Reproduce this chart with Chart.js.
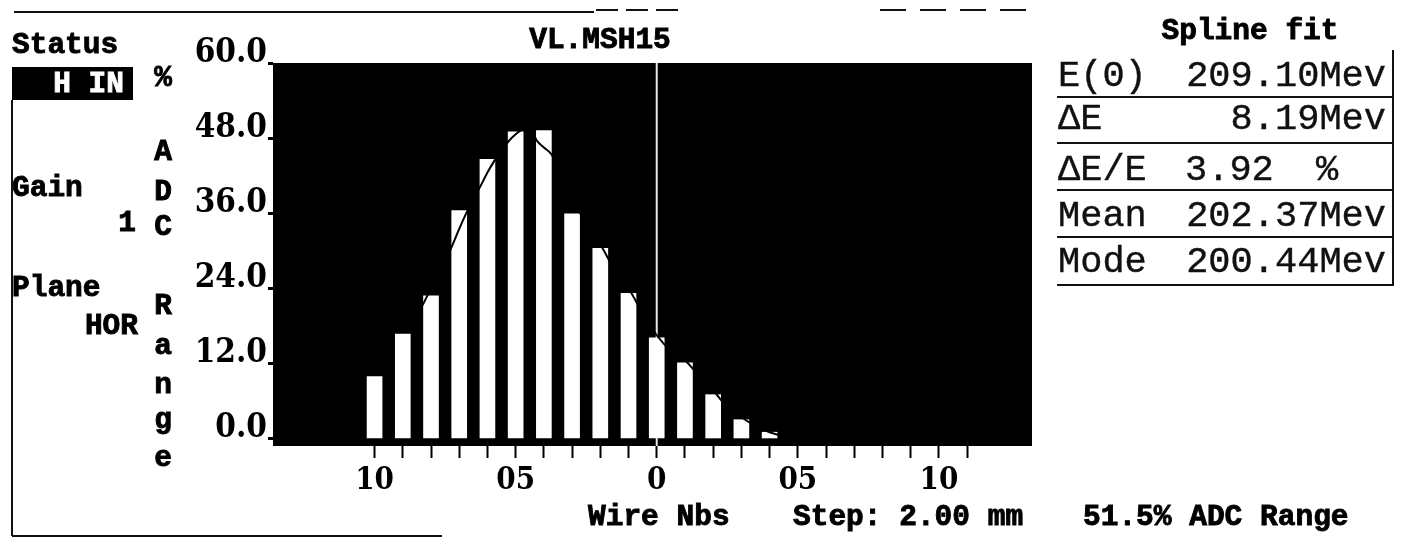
<!DOCTYPE html>
<html>
<head>
<meta charset="utf-8">
<script src="https://cdn.jsdelivr.net/npm/chart.js@4.4.1/dist/chart.umd.min.js"></script>
<style>
  body { margin: 0; background: #fff; }
  #wrap { position: relative; width: 1407px; height: 540px; overflow: hidden; background: #fff; }
  #chart { position: absolute; left: 0; top: 0; }
  .t { position: absolute; white-space: nowrap; color: #000;
       font-family: 'Liberation Mono', 'DejaVu Sans Mono', monospace; font-weight: bold; font-size: 29.5px;
       -webkit-text-stroke: 0.9px #000;
       height: 30px; line-height: 30px; }
  .m { position: absolute; white-space: nowrap; color: #111;
       font-family: 'Liberation Mono', 'DejaVu Sans Mono', monospace; font-size: 37px;
       -webkit-text-stroke: 0.4px #111;
       height: 40px; line-height: 40px; }
  .hl { position: absolute; height: 2px; background: #111; }
</style>
</head>
<body>
<div id="wrap">
  <canvas id="chart" width="1407" height="540"></canvas>

  <!-- cadre -->
  <div class="hl" style="left:14px; top:11px; width:580px;"></div>
  <div class="hl" style="left:596px; top:9px; width:90px; background:repeating-linear-gradient(90deg,#111 0 22px,transparent 22px 30px);"></div>
  <div class="hl" style="left:880px; top:9px; width:150px; background:repeating-linear-gradient(90deg,#111 0 26px,transparent 26px 40px);"></div>
  <div style="position:absolute; left:11px; top:100px; width:2px; height:436px; background:#111;"></div>
  <div class="hl" style="left:12px; top:535px; width:430px;"></div>

  <!-- panneau gauche -->
  <div class="t" style="left:12px; top:30px;">Status</div>
  <div style="position:absolute; left:12px; top:67px; width:121px; height:33px; background:#000;"></div>
  <div class="t" style="left:12px; top:69px; width:112px; text-align:right; color:#fff; -webkit-text-stroke-color:#fff;">H IN</div>
  <div class="t" style="left:12px; top:173px;">Gain</div>
  <div class="t" style="left:100px; top:208px; width:36px; text-align:right;">1</div>
  <div class="t" style="left:12px; top:273px;">Plane</div>
  <div class="t" style="left:60px; top:311px; width:78px; text-align:right;">HOR</div>

  <div class="t" style="left:150px; top:63px; width:26px; text-align:center;">%</div>
  <div class="t" style="left:150px; top:137px; width:26px; text-align:center;">A</div>
  <div class="t" style="left:150px; top:177px; width:26px; text-align:center;">D</div>
  <div class="t" style="left:150px; top:212px; width:26px; text-align:center;">C</div>
  <div class="t" style="left:150px; top:291px; width:26px; text-align:center;">R</div>
  <div class="t" style="left:150px; top:331px; width:26px; text-align:center;">a</div>
  <div class="t" style="left:150px; top:370px; width:26px; text-align:center;">n</div>
  <div class="t" style="left:150px; top:405px; width:26px; text-align:center;">g</div>
  <div class="t" style="left:150px; top:443px; width:26px; text-align:center;">e</div>

  <!-- titre -->
  <div class="t" style="left:500px; top:25px; width:200px; text-align:center;">VL.MSH15</div>

  <!-- tableau -->
  <div class="t" style="left:1150px; top:16px; width:200px; text-align:center;">Spline fit</div>
  <div class="m" style="left:1058px; top:56px;">E(0)</div>
  <div class="m" style="left:1150px; top:56px; width:236px; text-align:right;">209.10Mev</div>
  <div class="hl" style="left:1057px; top:96px; width:337px;"></div>
  <div class="m" style="left:1058px; top:99px;">ΔE</div>
  <div class="m" style="left:1150px; top:99px; width:236px; text-align:right;">8.19Mev</div>
  <div class="hl" style="left:1057px; top:142px; width:337px;"></div>
  <div class="m" style="left:1058px; top:150px;">ΔE/E</div>
  <div class="m" style="left:1185px; top:150px;">3.92</div>
  <div class="m" style="left:1316px; top:150px;">%</div>
  <div class="hl" style="left:1057px; top:189px; width:337px;"></div>
  <div class="m" style="left:1058px; top:196px;">Mean</div>
  <div class="m" style="left:1150px; top:196px; width:236px; text-align:right;">202.37Mev</div>
  <div class="hl" style="left:1057px; top:236px; width:337px;"></div>
  <div class="m" style="left:1058px; top:242px;">Mode</div>
  <div class="m" style="left:1150px; top:242px; width:236px; text-align:right;">200.44Mev</div>
  <div class="hl" style="left:1057px; top:284px; width:337px;"></div>
  <div style="position:absolute; left:1392px; top:50px; width:2px; height:236px; background:#111;"></div>

  <!-- bas -->
  <div class="t" style="left:588px; top:502px;">Wire Nbs</div>
  <div class="t" style="left:793px; top:502px;">Step: 2.00 mm</div>
  <div class="t" style="left:1083px; top:502px;">51.5% ADC Range</div>
</div>

<script>
// fils (position) et amplitude ADC en %
const wires = [-10, -9, -8, -7, -6, -5, -4, -3, -2, -1, 0, 1, 2, 3, 4];
const adcValues = [9.9, 16.7, 22.8, 36.4, 44.6, 49.0, 49.2, 35.9, 30.4, 23.2, 16.1, 12.1, 7.0, 3.0, 1.0];

// courbe spline
const fitX = [-8.3, -8, -7.75, -7.5, -7.25, -7, -6.75, -6.5, -6.25, -6, -5.75, -5.5, -5.25, -5, -4.75, -4.5,
              -4.25, -4, -3.75, -3.5, -3, -2.5, -2, -1.5, -1, -0.5, 0, 0.5, 1, 1.5, 2, 2.5, 3, 3.5, 4, 4.3];
const fitY = [21.3, 24, 26.3, 28.5, 30.8, 33.5, 36.0, 38.3, 40.3, 42.5, 44.4, 46.0, 47.5, 48.6, 49.4, 49.6,
              47.6, 46.5, 45.5, 43.4, 39, 34, 31, 27, 24, 20, 16.5, 14, 12.5, 10, 7.7, 5, 3.4, 2, 1, 0.6];

// graduations
const xTickValues = [-10, -9, -8, -7, -6, -5, -4, -3, -2, -1, 0, 1, 2, 3, 4, 5, 6, 7, 8, 9, 10, 11];
const xLabelValues = [-10, -5, 0, 5, 10];
const xLabelTexts = ['10', '05', '0', '05', '10'];
const yTickValues = [0, 12, 24, 36, 48, 60];

const boldFont = "'DejaVu Serif Condensed', 'DejaVu Serif', serif";

// fond noir de la zone + trait blanc au fil 0
const plotBackground = {
    id: 'plotBackground',
    beforeDatasetsDraw(chart) {
        const { ctx, chartArea } = chart;
        ctx.save();
        ctx.fillStyle = '#000';
        ctx.fillRect(chartArea.left, chartArea.top, chartArea.right - chartArea.left, chartArea.bottom - chartArea.top);
        const x0 = chart.scales.x.getPixelForValue(0);
        ctx.strokeStyle = '#e8e8e8';
        ctx.lineWidth = 2;
        ctx.beginPath();
        ctx.moveTo(x0, chartArea.top);
        ctx.lineTo(x0, chartArea.bottom);
        ctx.stroke();
        ctx.restore();
    }
};

new Chart(document.getElementById('chart'), {
    data: {
        datasets: [
            {
                type: 'line',
                data: fitX.map((x, i) => ({ x: x, y: fitY[i] })),
                borderColor: '#000',
                borderWidth: 2,
                pointRadius: 0,
                cubicInterpolationMode: 'monotone',
                order: 1
            },
            {
                type: 'bar',
                data: wires.map((w, i) => ({ x: w, y: adcValues[i] })),
                backgroundColor: '#fff',
                borderWidth: 0,
                barThickness: 15,
                order: 2
            }
        ]
    },
    plugins: [plotBackground],
    options: {
        responsive: false,
        animation: false,
        layout: { padding: { left: 193, right: 375, top: 63, bottom: 0 } },
        plugins: { legend: { display: false }, tooltip: { enabled: false } },
        scales: {
            x: {
                type: 'linear',
                offset: false,
                min: -13.6,
                max: 13.3,
                afterFit: scale => { scale.height = 94; },
                afterBuildTicks: scale => { scale.ticks = xTickValues.map(v => ({ value: v })); },
                grid: { offset: false, drawOnChartArea: false, drawTicks: true, tickLength: 12, tickColor: '#000', tickWidth: 2 },
                border: { display: false },
                ticks: {
                    autoSkip: false,
                    maxRotation: 0,
                    padding: 4,
                    color: '#000',
                    font: { family: boldFont, weight: 'bold', size: 31 },
                    callback: v => {
                        const k = xLabelValues.indexOf(v);
                        return k >= 0 ? xLabelTexts[k] : '';
                    }
                }
            },
            y: {
                type: 'linear',
                min: -1.2,
                max: 60,
                afterFit: scale => { scale.width = 80; },
                afterBuildTicks: scale => { scale.ticks = yTickValues.map(v => ({ value: v })); },
                grid: { drawOnChartArea: false, drawTicks: true, tickLength: 5, tickColor: '#000', tickWidth: 3 },
                border: { display: false },
                ticks: {
                    padding: 1,
                    labelOffset: -10,
                    color: '#000',
                    font: { family: boldFont, weight: 'bold', size: 33 },
                    callback: v => v.toFixed(1)
                }
            }
        }
    }
});
</script>
</body>
</html>
